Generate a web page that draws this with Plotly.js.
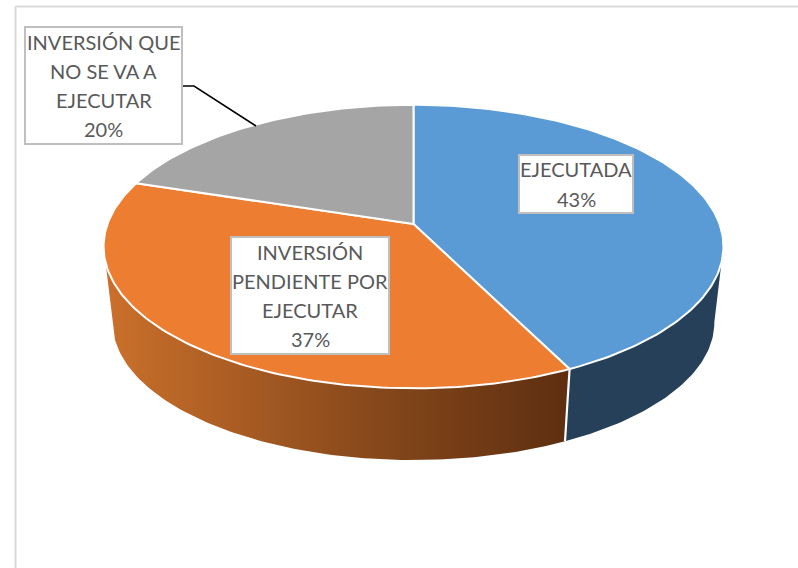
<!DOCTYPE html>
<html><head><meta charset="utf-8">
<script src="https://cdn.plot.ly/plotly-3.0.1.min.js"></script>
<style>html,body{margin:0;padding:0;background:#fff}#c{width:798px;height:568px}</style>
</head><body><div id="c"></div>
<script>
// Data
const categories = ['EJECUTADA', 'INVERSIÓN PENDIENTE POR EJECUTAR', 'INVERSIÓN QUE NO SE VA A EJECUTAR'];
const shares = [42.8, 37.2, 20];
const labelLines = [
  ['EJECUTADA', '43%'],
  ['INVERSIÓN', 'PENDIENTE POR', 'EJECUTAR', '37%'],
  ['INVERSIÓN QUE', 'NO SE VA A', 'EJECUTAR', '20%']
];
const topColors = ['#5B9BD5', '#EC7D31', '#A5A5A5'];

// Perspective disc geometry
const K = 0.159;
const TOP = {cx: 413.5, cy: 224, a: 306, b: 138.2};
const BOTTOM = {cx: 413.5, cy: 300.7, a: 297, b: 134};
const project = (d, deg) => {
  const t = deg * Math.PI / 180, u = Math.sin(t), v = -Math.cos(t), w = 1 - K * v;
  return [d.cx + d.a * u / w, d.cy + d.b * v / w];
};
const arc = (d, from, to) => {
  const pts = [], n = Math.max(2, Math.ceil(Math.abs(to - from)));
  for (let i = 0; i <= n; i++) pts.push(project(d, from + (to - from) * i / n));
  return pts;
};
const total = shares.reduce((a, b) => a + b, 0);
const edges = [0];
shares.forEach(s => edges.push(edges[edges.length - 1] + s / total * 360));

const poly = (pts, extra) => Object.assign({
  x: pts.map(p => p[0]), y: pts.map(p => p[1]), mode: 'lines', fill: 'toself',
  hoverinfo: 'skip', showlegend: false
}, extra);

const WALL_L = 261, WALL_R = 99;
const traces = [];
// Side walls
const wall = (from, to) => arc(TOP, from, to).concat(arc(BOTTOM, to, from));
traces.push(poly(wall(WALL_R, edges[1]), {fillcolor: '#254058', line: {width: 0, color: '#254058'}}));
traces.push(poly(wall(edges[1], WALL_L), {
  fillcolor: '#C96F2B',
  fillgradient: {type: 'horizontal', start: 566, stop: 106,
    colorscale: [[0, '#5E2F10'], [0.45, '#8A4A1C'], [1, '#CB702B']]},
  line: {width: 0, color: '#C96F2B'}
}));
// Seam between walls
const s1 = project(TOP, edges[1]), s2 = project(BOTTOM, edges[1]);
traces.push({x: [s1[0], s2[0]], y: [s1[1], s2[1]], mode: 'lines', line: {color: '#fff', width: 2.2},
  hoverinfo: 'skip', showlegend: false});
// Top slices
shares.forEach((s, i) => {
  const pts = [[TOP.cx, TOP.cy]].concat(arc(TOP, edges[i], edges[i + 1]));
  pts.push([TOP.cx, TOP.cy]);
  traces.push(poly(pts, {name: categories[i], fillcolor: topColors[i], line: {color: '#fff', width: 2}}));
});
// Leader line for the grey slice
traces.push({x: [182, 194, 256], y: [86, 86, 126], mode: 'lines', line: {color: '#000', width: 1.5},
  hoverinfo: 'skip', showlegend: false});

// Label boxes
const boxes = [
  {x0: 519, x1: 633, y0: 155, y1: 213},
  {x0: 231, x1: 389, y0: 237, y1: 354},
  {x0: 25, x1: 182, y0: 27, y1: 144}
];
const shapes = [
  {type: 'line', xref: 'x', yref: 'y', x0: 15.5, x1: 15.5, y0: 6.5, y1: 568, line: {color: '#D9D9D9', width: 2}},
  {type: 'line', xref: 'x', yref: 'y', x0: 15.5, x1: 798, y0: 6.5, y1: 6.5, line: {color: '#D9D9D9', width: 2}}
];
const annotations = [];
const LINE = 29.3;
boxes.forEach((b, i) => {
  shapes.push(Object.assign({type: 'rect', xref: 'x', yref: 'y', fillcolor: '#fff', layer: 'above',
    line: {color: '#BFBFBF', width: 2}}, b));
  const lines = labelLines[i], mid = (b.y0 + b.y1) / 2, xm = (b.x0 + b.x1) / 2;
  lines.forEach((t, j) => annotations.push({
    x: xm, y: mid + (j - (lines.length - 1) / 2) * LINE, xref: 'x', yref: 'y', text: t, showarrow: false,
    xanchor: 'center', yanchor: 'middle',
    font: {family: 'Lato, Carlito, sans-serif', size: 20, color: '#595959'}
  }));
});

Plotly.newPlot('c', traces, {
  width: 798, height: 568, margin: {l: 0, r: 0, t: 0, b: 0},
  paper_bgcolor: '#fff', plot_bgcolor: '#fff', showlegend: false, hovermode: false,
  xaxis: {range: [0, 798], visible: false, fixedrange: true},
  yaxis: {range: [568, 0], visible: false, fixedrange: true},
  shapes, annotations
}, {displayModeBar: false, staticPlot: true});
</script></body></html>
